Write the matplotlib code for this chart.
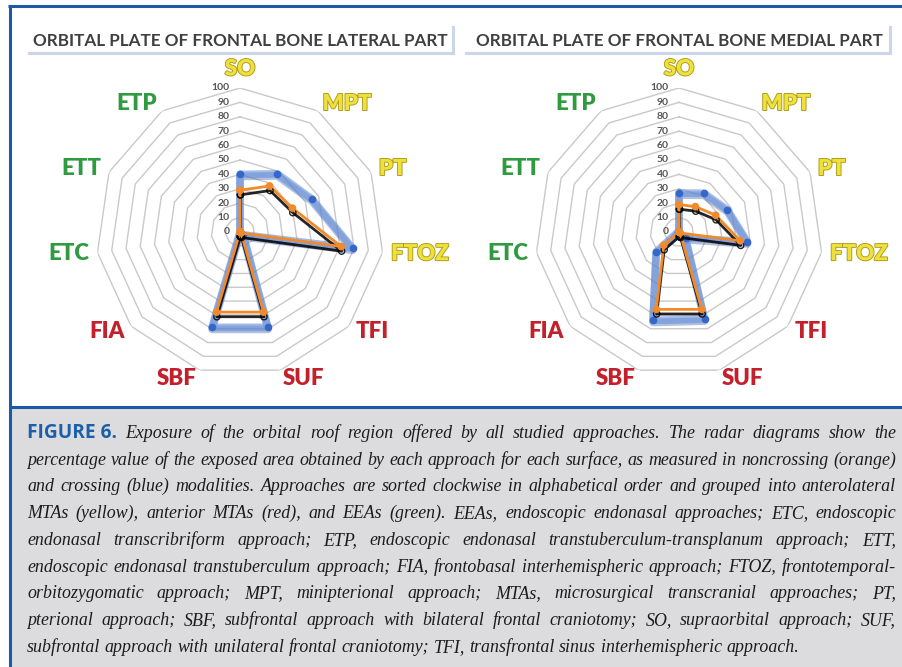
import matplotlib
matplotlib.use("Agg")
import matplotlib.pyplot as plt
import matplotlib.patheffects as pe
from matplotlib.patches import Rectangle
import numpy as np

# approaches, clockwise from the top
categories = ["SO", "MPT", "PT", "FTOZ", "TFI", "SUF", "SBF", "FIA", "ETC", "ETT", "ETP"]
groups = ["anterolateral"] * 4 + ["anterior"] * 4 + ["endoscopic"] * 3
ring_levels = [0, 10, 20, 30, 40, 50, 60, 70, 80, 90, 100]

# exposed area (%) per approach
lateral_noncrossing = [29, 38, 40, 71, 1, 58, 58, 0, 0, 0, 0]
lateral_crossing = [40, 48, 55, 79, 3, 69, 69, 0, 0, 0, 0]
medial_noncrossing = [19, 21, 28, 43, 1, 56, 56, 14, 0, 0, 0]
medial_crossing = [27, 32, 37, 48, 6, 63, 64, 21, 1, 0, 0]

titles = ["ORBITAL PLATE OF FRONTAL BONE LATERAL PART",
          "ORBITAL PLATE OF FRONTAL BONE MEDIAL PART"]

caption_head = "FIGURE 6."
caption_lines = [
    "Exposure of the orbital roof region offered by all studied approaches. The radar diagrams show the",
    "percentage value of the exposed area obtained by each approach for each surface, as measured in noncrossing (orange)",
    "and crossing (blue) modalities. Approaches are sorted clockwise in alphabetical order and grouped into anterolateral",
    "MTAs (yellow), anterior MTAs (red), and EEAs (green). EEAs, endoscopic endonasal approaches; ETC, endoscopic",
    "endonasal transcribriform approach; ETP, endoscopic endonasal transtuberculum-transplanum approach; ETT,",
    "endoscopic endonasal transtuberculum approach; FIA, frontobasal interhemispheric approach; FTOZ, frontotemporal-",
    "orbitozygomatic approach; MPT, minipterional approach; MTAs, microsurgical transcranial approaches; PT,",
    "pterional approach; SBF, subfrontal approach with bilateral frontal craniotomy; SO, supraorbital approach; SUF,",
    "subfrontal approach with unilateral frontal craniotomy; TFI, transfrontal sinus interhemispheric approach.",
]

group_colors = {"anterolateral": "#efe03c", "anterior": "#c3202b", "endoscopic": "#2f9a40"}
FRAME_BLUE = "#1d5aa5"

W, H = 902, 667
fig = plt.figure(figsize=(W / 100, H / 100), dpi=100)
fig.patch.set_facecolor("white")

# page furniture in pixel coordinates
bg = fig.add_axes([0, 0, 1, 1])
bg.set_xlim(0, W)
bg.set_ylim(H, 0)
bg.axis("off")
bg.add_patch(Rectangle((9, 407), W - 9, H - 407, facecolor="#dcdbdd", edgecolor="none"))
bg.plot([8, W], [5.5, 5.5], color=FRAME_BLUE, lw=2.2, solid_capstyle="butt")
bg.plot([9.5, 9.5], [5, H], color=FRAME_BLUE, lw=2.2, solid_capstyle="butt")
bg.plot([9, W], [406.5, 406.5], color=FRAME_BLUE, lw=2.2, solid_capstyle="butt")

# title boxes with a soft right/bottom edge
for x0, x1, cx, title in [(29, 453, 240, titles[0]), (466, 890, 679, titles[1])]:
    bg.plot([x0, x1], [53, 53], color="#ccd5e9", lw=2.2)
    bg.plot([x1, x1], [27, 53], color="#ccd5e9", lw=2.2)
    bg.text(cx, 40.5, title, ha="center", va="center", fontsize=12.3,
            family="Lato", weight="bold", color="#3f3f3f")

R = 144
n = len(categories)
angles = np.arange(n) * 2 * np.pi / n
closed = np.append(angles, angles[0])


def radar(cx, cy, noncrossing, crossing):
    ax = fig.add_axes([(cx - R) / W, 1 - (cy + R) / H, 2 * R / W, 2 * R / H],
                      projection="polar")
    ax.set_theta_zero_location("N")
    ax.set_theta_direction(-1)
    ax.set_ylim(0, 100)
    ax.grid(False)
    ax.set_xticks([])
    ax.set_yticks([])
    ax.spines["polar"].set_visible(False)
    ax.patch.set_alpha(0)

    for lvl in ring_levels[1:]:
        ax.plot(closed, [lvl] * (n + 1), color="#c9c9c9", lw=1.0, zorder=1)
    for lvl in ring_levels:
        ax.annotate(str(lvl), xy=(0, lvl), xytext=(-7.5, 0), textcoords="offset points",
                    ha="right", va="center", fontsize=7.5, family="Lato",
                    weight="bold", color="#555555", zorder=2)

    cr = np.append(crossing, crossing[0])
    nc = np.append(noncrossing, noncrossing[0])
    ax.plot(closed, cr, color="#6a92dc", lw=5.5, alpha=0.62,
            solid_joinstyle="round", solid_capstyle="round", zorder=3,
            path_effects=[pe.SimpleLineShadow(offset=(0, -1.5), shadow_color="#1f4ea6",
                                              alpha=0.35), pe.Normal()])
    ax.plot(angles, crossing, ls="none", marker="o", ms=4.5,
            color="#3467c8", zorder=4)
    ax.plot(closed, nc, color="#f28a2a", lw=2.0, marker="o", ms=4.5, zorder=5,
            solid_joinstyle="round",
            path_effects=[pe.SimpleLineShadow(offset=(0.3, -3.3), shadow_color="black",
                                              alpha=0.85), pe.Normal()])

    for ang, name, grp in zip(angles, categories, groups):
        s, c = np.sin(ang), np.cos(ang)
        ha = "center" if abs(s) < 0.2 else ("left" if s > 0 else "right")
        va = "bottom" if c > 0.9 else "center"
        col = group_colors[grp]
        effects = None
        if grp == "anterolateral":
            effects = [pe.withStroke(linewidth=1.3, foreground="#ab9b1e")]
        ax.text(ang, 106, name, ha=ha, va=va, fontsize=16, family="Lato",
                weight="heavy", color=col, path_effects=effects, clip_on=False)
    return ax


radar(240, 232, lateral_noncrossing, lateral_crossing)
radar(679, 232, medial_noncrossing, medial_crossing)

# justified caption
renderer = fig.canvas.get_renderer()
serif = dict(family="Liberation Serif", style="italic", color="#1c1c1c")
head = dict(family="Open Sans", weight="bold", color="#1b5fab")
LEFT, RIGHT = 27, 896
BASE0, STEP = 438, 26.7
HEAD_SIZE = 13.8


def width_of(txt, props, size):
    t = fig.text(0, 0, txt, fontsize=size, **props)
    w = t.get_window_extent(renderer).width
    t.remove()
    return w


size = 13.5
space = width_of("a a", serif, size) - width_of("aa", serif, size)
natural = max(sum(width_of(w, serif, size) for w in ln.split()) + space * (len(ln.split()) - 1)
              for ln in caption_lines[1:])
if natural > (RIGHT - LEFT) * 0.995:
    size *= (RIGHT - LEFT) * 0.995 / natural
    space = width_of("a a", serif, size) - width_of("aa", serif, size)

for i, line in enumerate(caption_lines):
    tokens = [(w, serif, size) for w in line.split()]
    if i == 0:
        tokens = [(caption_head, head, HEAD_SIZE)] + tokens
    widths = [width_of(t, p, s) for t, p, s in tokens]
    last = i == len(caption_lines) - 1
    gap = space if last else (RIGHT - LEFT - sum(widths)) / (len(tokens) - 1)
    x = LEFT
    y = BASE0 + i * STEP
    for (t, p, s), w in zip(tokens, widths):
        fig.text(x / W, 1 - y / H, t, fontsize=s, va="baseline", ha="left", **p)
        x += w + gap

fig.savefig("out.png", dpi=100)
